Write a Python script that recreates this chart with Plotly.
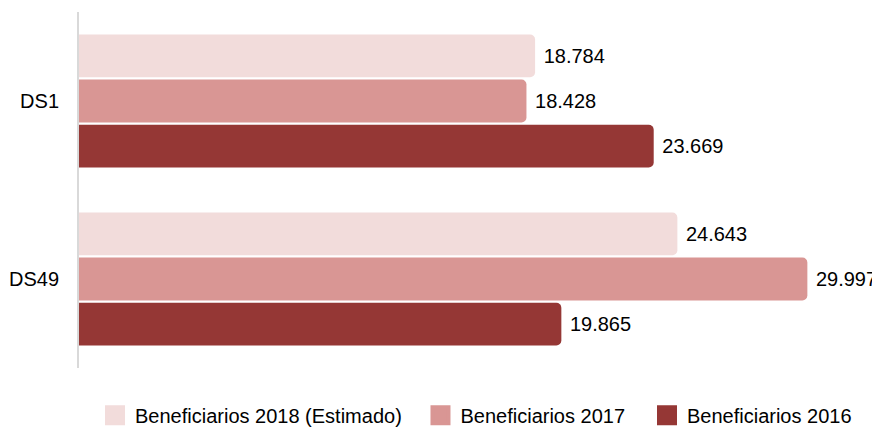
import plotly.graph_objects as go

categories = ["DS1", "DS49"]
series_names = ["Beneficiarios 2018 (Estimado)", "Beneficiarios 2017", "Beneficiarios 2016"]
values_2018 = [18784, 24643]
values_2017 = [18428, 29997]
values_2016 = [23669, 19865]
colors = ["#f2dcdb", "#d99694", "#953735"]

FONT = "Liberation Sans, Arial, sans-serif"

fig = go.Figure()
for name, vals, col in zip(series_names, [values_2018, values_2017, values_2016], colors):
    fig.add_trace(go.Bar(
        y=categories, x=vals, name=name, orientation="h",
        marker=dict(color=col, line=dict(width=0)),
        text=vals, texttemplate=" %{x:,}", textposition="outside",
        textfont=dict(family=FONT, size=20, color="#000000"),
        cliponaxis=False, showlegend=False,
    ))

# legend entries (square swatches), each in its own legend box
legend_ids = ["legend", "legend2", "legend3"]
legend_x = [0.0206, 0.4395, 0.7310]
for name, col, lid in zip(series_names, colors, legend_ids):
    fig.add_trace(go.Scatter(
        x=[None], y=[None], mode="markers", name=name, legend=lid,
        marker=dict(symbol="square", size=16, color=col, line=dict(width=4, color=col)),
        showlegend=True,
    ))

legend_common = dict(orientation="h", xanchor="left", y=-0.078, yanchor="top",
                     font=dict(family=FONT, size=20, color="#000000"),
                     itemwidth=30, bgcolor="rgba(0,0,0,0)")

fig.update_layout(
    width=880, height=427,
    margin=dict(l=71, r=32, t=4, b=67, autoexpand=False),
    paper_bgcolor="white", plot_bgcolor="white",
    barmode="group", bargap=0.24, bargroupgap=0.05, barcornerradius=5,
    separators=",.",
    font=dict(family=FONT, size=20, color="#000000"),
    showlegend=True,
    legend=dict(x=legend_x[0], **legend_common),
    legend2=dict(x=legend_x[1], **legend_common),
    legend3=dict(x=legend_x[2], **legend_common),
    xaxis=dict(range=[0, 32000], autorange=False, showgrid=False, zeroline=False,
               showticklabels=False, showline=False, fixedrange=True),
    yaxis=dict(autorange="reversed", showgrid=False, zeroline=False,
               showline=True, linecolor="#d9d9d9", linewidth=2,
               ticks="", ticklabelstandoff=14, automargin=False,
               tickfont=dict(family=FONT, size=20, color="#000000")),
)

fig.write_html("out.html")
